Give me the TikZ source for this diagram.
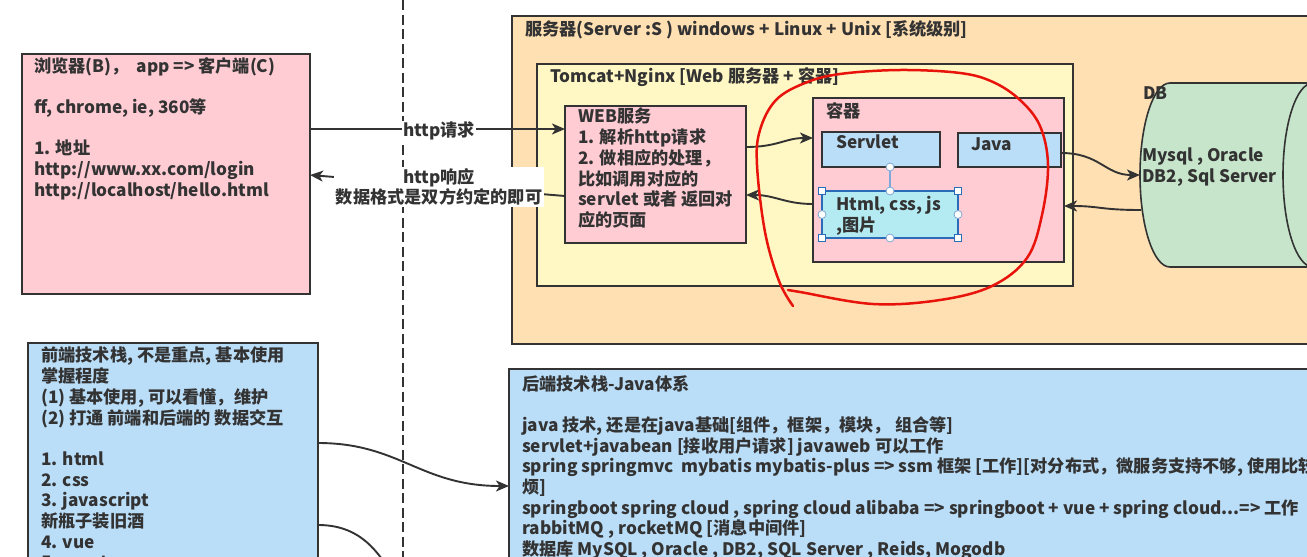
\documentclass[tikz,border=0pt]{standalone}
\usepackage{fontspec}
\setmainfont{Noto Sans CJK SC}
\usetikzlibrary{arrows.meta}
\definecolor{bd}{HTML}{333333}
\definecolor{tx}{HTML}{333333}
\definecolor{pinkbox}{HTML}{FFCCD4}
\definecolor{orangebox}{HTML}{FFE0B3}
\definecolor{yellowbox}{HTML}{FFF7C4}
\definecolor{bluebox}{HTML}{BADDF8}
\definecolor{cyanbox}{HTML}{B4EBF2}
\definecolor{greenbox}{HTML}{C6E5CA}
\definecolor{selblue}{HTML}{2B6CB8}
\definecolor{handleline}{HTML}{7FA8DC}
\definecolor{redpen}{HTML}{E8140C}
\tikzset{
  box/.style={draw=bd, line width=1.6pt, inner sep=0pt, outer sep=0pt, anchor=north west},
  txt/.style={anchor=north west, align=left, inner sep=0pt, text=tx,
    font=\bfseries\fontsize{17.2}{20.7}\selectfont},
  conn/.style={draw=bd, line width=1.9pt, -{Stealth[length=13pt,width=11pt,inset=3.5pt]}},
  plain/.style={draw=bd, line width=1.9pt},
  sqhandle/.style={draw=selblue, fill=white, line width=0.8pt, minimum size=7pt, inner sep=0pt},
  cihandle/.style={draw=selblue!60, fill=white, line width=0.8pt, circle, minimum size=8pt, inner sep=0pt},
}
\begin{document}
\begin{tikzpicture}[x=1pt,y=-1pt]
\useasboundingbox (0,0) rectangle (1307,557);
\clip (0,0) rectangle (1307,557);
\fill[white] (0,0) rectangle (1307,557);

% dashed separator
\draw[bd, line width=1.8pt, dash pattern=on 10pt off 4.5pt] (403,0) -- (403,557);

% ---------- boxes ----------
\node[box, fill=pinkbox, minimum width=288pt, minimum height=240pt] (browser) at (22,54) {};
\node[box, fill=orangebox, minimum width=808pt, minimum height=328pt] (server) at (512,16) {};
\node[box, fill=yellowbox, minimum width=536pt, minimum height=222pt] (tomcat) at (537,64) {};
\node[box, fill=pinkbox, minimum width=181pt, minimum height=137pt] (web) at (565,106) {};
\node[box, fill=pinkbox, minimum width=251pt, minimum height=164pt] (cont) at (813,98) {};
\node[box, fill=bluebox, minimum width=118pt, minimum height=35pt] (servlet) at (822,132) {};
\node[box, fill=bluebox, minimum width=103pt, minimum height=34pt] (java) at (958,133) {};
\node[box, draw=selblue, fill=cyanbox, minimum width=136pt, minimum height=47pt] (html) at (822,191) {};
\node[box, fill=bluebox, minimum width=290pt, minimum height=240pt] (front) at (28,343) {};
\node[box, fill=bluebox, minimum width=820pt, minimum height=220pt] (back) at (509,369) {};

% DB cylinder
\filldraw[fill=greenbox, draw=bd, line width=1.6pt]
  (1330,83) -- (1170,83) .. controls (1153.4,83) and (1140,124.2) .. (1140,175)
  .. controls (1140,225.8) and (1153.4,267) .. (1170,267) -- (1330,267);
\draw[bd, line width=1.6pt] (1313,83) .. controls (1296.4,83) and (1283,124.2) .. (1283,175)
  .. controls (1283,225.8) and (1296.4,267) .. (1313,267);
\coordinate (dbin) at (1140,175);
\coordinate (dbout) at (1141,210);

% ---------- texts ----------
\node[txt] (tbrowser) at (34,57) {浏览器(B)，\ \ app => 客户端(C)\\ \mbox{}\\ ff, chrome, ie, 360等\\ \mbox{}\\ 1. 地址\\ http://www.xx.com/login\\ http://localhost/hello.html};
\node[txt] (tserver) at (525,20) {服务器(Server :S ) windows + Linux + Unix [系统级别]};
\node[txt] (ttomcat) at (550,67) {Tomcat+Nginx [Web 服务器 + 容器]};
\node[txt] (tweb) at (578,108) {WEB服务\\ 1. 解析http请求\\ 2. 做相应的处理，\\ 比如调用对应的\\ servlet 或者 返回对\\ 应的页面};
\node[txt] (tcont) at (826,102) {容器};
\node[txt] (tservlet) at (836,135) {Servlet};
\node[txt] (tjava) at (971,137) {Java};
\node[txt] (thtml) at (836,196) {Html, css, js\\ ,图片};
\node[txt] (tdb) at (1143,86) {DB};
\node[txt] (tdb2) at (1142,148) {Mysql , Oracle\\ DB2, Sql Server};
\node[txt] (tfront) at (41,347) {前端技术栈, 不是重点, 基本使用\\ 掌握程度\\ (1) 基本使用, 可以看懂，维护\\ (2) 打通 前端和后端的 数据交互\\ \mbox{}\\ 1. html\\ 2. css\\ 3. javascript\\ 新瓶子装旧酒\\ 4. vue\\ 5. react};
\node[txt] (tback) at (522,375) {后端技术栈-Java体系\\ \mbox{}\\ java 技术, 还是在java基础[组件，框架，模块， 组合等]\\ servlet+javabean [接收用户请求] javaweb 可以工作\\ spring springmvc\ \ mybatis mybatis-plus => ssm 框架 [工作][对分布式，微服务支持不够, 使用比较麻\\ 烦]\\ springboot spring cloud , spring cloud alibaba => springboot + vue + spring cloud...=> 工作\\ rabbitMQ , rocketMQ [消息中间件]\\ 数据库 MySQL , Oracle , DB2, SQL Server , Reids, Mogodb};

% ---------- selection handles ----------
\coordinate (hl) at (html.north |- servlet.south);
\draw[handleline, line width=1.2pt] (hl) -- (html.north);
\node[cihandle] (h0) at (hl) {};
\node[sqhandle] (h1) at (html.north west) {};
\node[sqhandle] (h2) at (html.north east) {};
\node[sqhandle] (h3) at (html.south west) {};
\node[sqhandle] (h4) at (html.south east) {};
\node[cihandle] (h5) at (html.north) {};
\node[cihandle] (h6) at (html.south) {};
\node[cihandle] (h7) at (html.west) {};
\node[cihandle] (h8) at (html.east) {};

% ---------- connectors ----------
\draw[conn] (browser.east |- 0,129) -- (web.west |- 0,129);
\node[fill=white, inner sep=1pt, font=\bfseries\fontsize{17.2}{20.7}\selectfont, text=tx] (lreq) at (439,131) {http请求};
\draw[conn] (web.west |- 0,196) -- (browser.east |- 0,175);
\node[fill=white, inner sep=1.5pt, align=center, font=\bfseries\fontsize{17.2}{20.7}\selectfont, text=tx] (lresp) at (439,187) {http响应\\ 数据格式是双方约定的即可};

\draw[conn] (web.east |- 0,147) .. controls (778,147) and (785,138) .. (cont.west |- 0,138);
\draw[conn] (cont.west |- 0,204) .. controls (785,204) and (775,195) .. (web.east |- 0,195);
\draw[conn] (java.east |- 0,153) .. controls (1100,153) and (1105,175) .. (dbin);
\draw[conn] (dbout) .. controls (1100,210) and (1100,206) .. (cont.east |- 0,206);

\draw[conn] (front.east |- 0,443) .. controls (400,443) and (420,486) .. (back.west |- 0,486);
\coordinate (offbottom) at (392,575);
\draw[plain] (front.east |- 0,525) .. controls (355,525) and (375,545) .. (offbottom);

% ---------- red pen loop ----------
\draw[redpen, line width=2.5pt, line cap=round, line join=round] plot[smooth, tension=0.6] coordinates {
  (793,306) (779,281) (765,232) (757,165) (760,130) (776,100) (805,83) (840,74) (900,70) (960,73)
  (993,82) (1020,100) (1040,126) (1048,165) (1042,215) (1027,258) (992,286) (940,300) (873,304) (800,292) (788,290)};
\end{tikzpicture}
\end{document}
